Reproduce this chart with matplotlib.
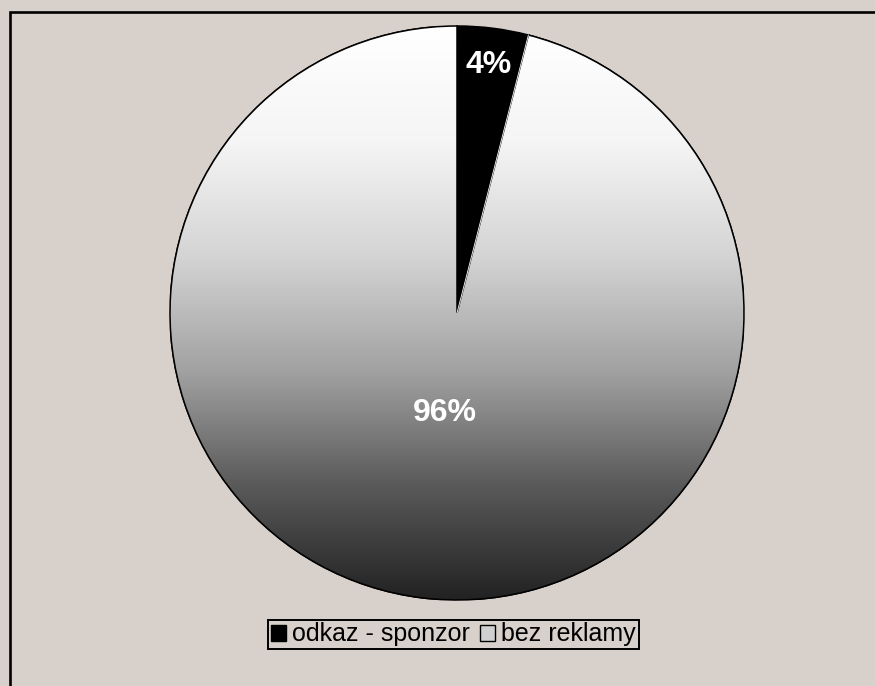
import numpy as np
import matplotlib
matplotlib.use("Agg")
import matplotlib.pyplot as plt
from matplotlib.patches import Rectangle, Patch, Wedge
from matplotlib.colors import LinearSegmentedColormap

labels = ["odkaz - sponzor", "bez reklamy"]
values = [4, 96]
pct_labels = ["4%", "96%"]

BG = "#d8d0ca"
W, H = 875, 686
fig = plt.figure(figsize=(W / 100, H / 100), dpi=100, facecolor=BG)
plt.rcParams['font.family'] = ['Liberation Sans', 'DejaVu Sans']

# outer frame (left and top visible)
fig.patches.append(Rectangle((9.5 / W, -0.1), 1.2, 1 - 11.5 / H + 0.1,
                             transform=fig.transFigure, fill=False,
                             edgecolor="black", linewidth=1.9, zorder=0))

cx, cy, r = 457, 313, 287
ax = fig.add_axes([(cx - r) / W, (H - cy - r) / H, 2 * r / W, 2 * r / H])
ax.set_facecolor("none")

wedges, _ = ax.pie(values, startangle=90, counterclock=False, radius=1,
                   colors=["black", "white"],
                   wedgeprops=dict(edgecolor="black", linewidth=1.1))
ax.set_aspect("equal")
ax.axis("off")

# gradient fill for the big slice
cmap = LinearSegmentedColormap.from_list(
    "g", ["#ffffff", "#f5f5f5", "#d4d4d4", "#a2a2a2", "#5a5a5a", "#222222"])
grad = np.linspace(0, 1, 512).reshape(-1, 1)
im = ax.imshow(grad, extent=[-1, 1, -1, 1], origin="upper", cmap=cmap,
               aspect="auto", zorder=1.5, interpolation="bilinear")
im.set_clip_path(wedges[1])
wedges[1].set_zorder(1)
w = wedges[1]
ax.add_patch(Wedge((0, 0), 1, w.theta1, w.theta2, fill=False, edgecolor="black",
                   linewidth=1.1, zorder=2))
ang = np.deg2rad(wedges[0].theta1)
ax.plot([0, np.cos(ang)], [0, np.sin(ang)], color="white", lw=0.6, zorder=2.5)
ax.set_xlim(-1, 1)
ax.set_ylim(-1, 1)

dists = [0.87, 0.35]
for wd, lab, d in zip(wedges, pct_labels, dists):
    mid = np.deg2rad((wd.theta1 + wd.theta2) / 2)
    ax.text(d * np.cos(mid), d * np.sin(mid), lab, ha="center", va="center",
            color="white", fontsize=23, fontweight="bold", zorder=3)

handles = [Patch(facecolor="black", edgecolor="black"),
           Patch(facecolor="#d0d0d0", edgecolor="black")]
leg = fig.legend(handles, labels, ncol=2, loc="center",
                 bbox_to_anchor=(453.5 / W, 1 - 634.5 / H),
                 frameon=True, fancybox=False, edgecolor="black",
                 facecolor=BG, framealpha=1, fontsize=18,
                 handlelength=0.6, handleheight=0.6, handletextpad=0.25,
                 columnspacing=0.4, borderpad=0.1, borderaxespad=0)
leg.get_frame().set_linewidth(1.4)

fig.savefig("out.png", dpi=100, facecolor=BG)
